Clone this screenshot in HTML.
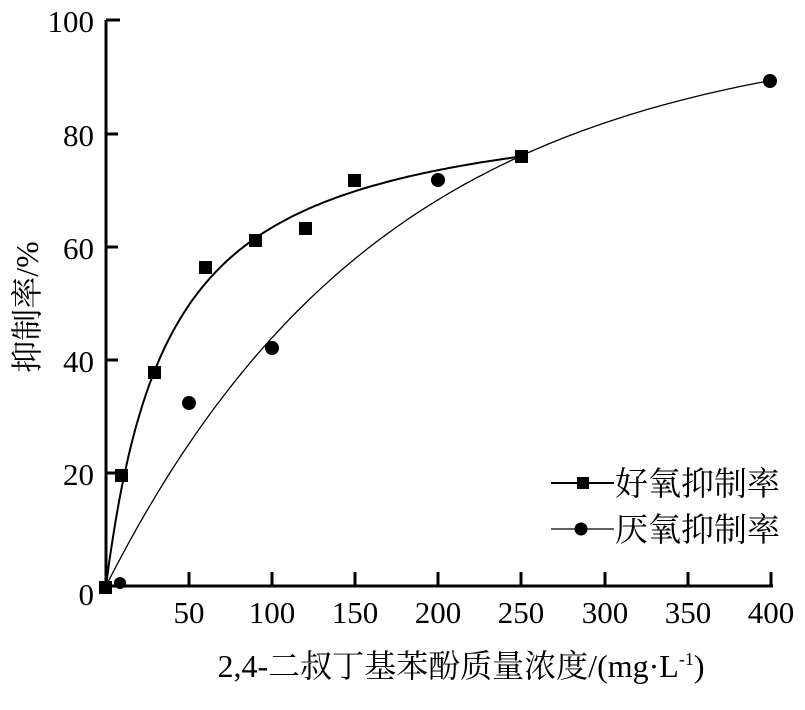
<!DOCTYPE html>
<html><head><meta charset="utf-8"><style>
html,body{margin:0;padding:0;background:#fff;}
svg text{font-family:"Liberation Serif","Noto Serif CJK SC",serif;fill:#000;}
</style></head><body>
<svg id="s" width="805" height="705" viewBox="0 0 805 705" xmlns="http://www.w3.org/2000/svg">
<g stroke="#000" stroke-width="3" fill="none">
<path d="M106,20 V586 H773"/>
<path d="M106,20 H120 M106,134 H118 M106,247 H118 M106,360 H118 M106,473 H118"/>
<path d="M189,586 V572 M272,586 V572 M355,586 V572 M438,586 V572 M521,586 V572 M605,586 V572 M688,586 V572 M771,586 V572"/>
</g>
<g font-size="31" text-anchor="end">
<text x="94" y="32">100</text><text x="94" y="146">80</text><text x="94" y="259">60</text>
<text x="94" y="372">40</text><text x="94" y="485">20</text><text x="94" y="605">0</text>
</g>
<g font-size="31" text-anchor="middle">
<text x="189" y="623">50</text><text x="272" y="623">100</text><text x="355" y="623">150</text>
<text x="438" y="623">200</text><text x="521" y="623">250</text><text x="605" y="623">300</text>
<text x="688" y="623">350</text><text x="771" y="623">400</text>
</g>
<text x="461" y="677" font-size="32" text-anchor="middle">2,4-二叔丁基苯酚质量浓度/(mg·L<tspan font-size="18" dy="-12">-1</tspan><tspan dy="12">)</tspan></text>
<text transform="translate(38,307) rotate(-90)" font-size="32" text-anchor="middle">抑制率/%</text>
<path id="c1" stroke="#000" stroke-width="2" fill="none"/>
<path id="c2" stroke="#000" stroke-width="1.3" fill="none"/>
<g fill="#000">
<rect x="99" y="581" width="13" height="13"/><rect x="115" y="469" width="13" height="13"/>
<rect x="148" y="366" width="13" height="13"/><rect x="199" y="261" width="13" height="13"/>
<rect x="249" y="234" width="13" height="13"/><rect x="299" y="222" width="13" height="13"/>
<rect x="348" y="174" width="13" height="13"/><rect x="515" y="150" width="13" height="13"/>
<circle cx="120" cy="583" r="6"/><circle cx="189" cy="403" r="7"/><circle cx="272" cy="348" r="7"/>
<circle cx="438" cy="180" r="7"/><circle cx="770" cy="81" r="7"/>
<rect x="577" y="477" width="12" height="12"/><circle cx="581" cy="529" r="6.5"/>
</g>
<g stroke="#000" stroke-width="2"><path d="M551,483 H614"/></g>
<g stroke="#000" stroke-width="1.3"><path d="M551,529 H614"/></g>
<g font-size="33"><text x="615" y="495">好氧抑制率</text><text x="615" y="541">厌氧抑制率</text></g>
</svg>
<script>
function X(v){return 106+v*1.6625;}function Y(v){return 586-v*5.65;}
var a="",b="";
for(var x=0;x<=250;x+=2){var v=87.6*x/(38+x);a+=(x?"L":"M")+X(x).toFixed(1)+","+Y(v).toFixed(1);}
for(var x=0;x<=400;x+=3){var v=98.9*(1-Math.exp(-x/170));b+=(x?"L":"M")+X(x).toFixed(1)+","+Y(v).toFixed(1);}
document.getElementById("c1").setAttribute("d",a);
document.getElementById("c2").setAttribute("d",b);
</script>
</body></html>
